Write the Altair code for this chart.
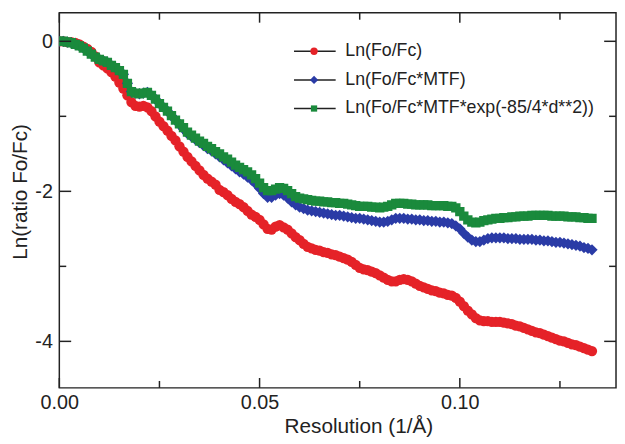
import altair as alt
import pandas as pd

# ---- data ----
step = 0.001
red = [0.00, 0.00, -0.01, -0.01, -0.02, -0.04, -0.07, -0.10, -0.14, -0.20,
       -0.28, -0.32, -0.36, -0.41, -0.47, -0.55, -0.63, -0.72, -0.81, -0.86,
       -0.87, -0.86, -0.88, -0.93, -1.00, -1.07, -1.13, -1.19, -1.26, -1.32,
       -1.40, -1.47, -1.54, -1.60, -1.66, -1.72, -1.78, -1.83, -1.87, -1.91,
       -1.98, -2.01, -2.05, -2.10, -2.14, -2.17, -2.21, -2.26, -2.31, -2.34,
       -2.38, -2.44, -2.50, -2.51, -2.47, -2.45, -2.48, -2.51, -2.56, -2.61,
       -2.65, -2.70, -2.74, -2.76, -2.78, -2.79, -2.81, -2.82, -2.84, -2.85,
       -2.87, -2.89, -2.91, -2.94, -2.98, -3.02, -3.04, -3.05, -3.07, -3.09,
       -3.12, -3.15, -3.18, -3.20, -3.20, -3.18, -3.17, -3.18, -3.20, -3.23,
       -3.26, -3.28, -3.30, -3.32, -3.33, -3.35, -3.36, -3.38, -3.39, -3.42,
       -3.47, -3.53, -3.59, -3.64, -3.69, -3.72, -3.73, -3.73, -3.74, -3.74,
       -3.74, -3.75, -3.76, -3.77, -3.79, -3.80, -3.82, -3.84, -3.86, -3.88,
       -3.89, -3.91, -3.93, -3.95, -3.97, -3.99, -4.00, -4.02, -4.04, -4.05,
       -4.07, -4.09, -4.11, -4.13]
blue = [0.00, 0.00, -0.01, -0.02, -0.04, -0.06, -0.09, -0.13, -0.17, -0.21,
        -0.24, -0.26, -0.28, -0.32, -0.35, -0.39, -0.44, -0.56, -0.67, -0.69,
        -0.70, -0.69, -0.68, -0.72, -0.77, -0.83, -0.88, -0.93, -0.99, -1.05,
        -1.11, -1.17, -1.23, -1.27, -1.31, -1.35, -1.39, -1.43, -1.46, -1.50,
        -1.54, -1.58, -1.62, -1.66, -1.70, -1.74, -1.77, -1.81, -1.85, -1.90,
        -1.96, -2.03, -2.08, -2.08, -2.05, -2.03, -2.05, -2.09, -2.14, -2.18,
        -2.21, -2.23, -2.25, -2.26, -2.27, -2.28, -2.29, -2.30, -2.31, -2.32,
        -2.32, -2.33, -2.34, -2.35, -2.36, -2.36, -2.37, -2.38, -2.39, -2.40,
        -2.41, -2.41, -2.40, -2.38, -2.36, -2.36, -2.36, -2.37, -2.37, -2.38,
        -2.38, -2.39, -2.39, -2.40, -2.40, -2.41, -2.41, -2.42, -2.43, -2.46,
        -2.50, -2.56, -2.61, -2.65, -2.67, -2.67, -2.65, -2.63, -2.62, -2.62,
        -2.62, -2.62, -2.63, -2.63, -2.63, -2.64, -2.64, -2.64, -2.64, -2.65,
        -2.65, -2.66, -2.66, -2.67, -2.68, -2.68, -2.69, -2.70, -2.71, -2.72,
        -2.73, -2.75, -2.76, -2.78]
green = [0.00, 0.00, -0.01, -0.02, -0.04, -0.06, -0.09, -0.13, -0.17, -0.21,
         -0.24, -0.26, -0.28, -0.32, -0.35, -0.39, -0.44, -0.56, -0.67, -0.69,
         -0.70, -0.69, -0.68, -0.72, -0.77, -0.83, -0.88, -0.93, -0.99, -1.05,
         -1.10, -1.15, -1.21, -1.25, -1.29, -1.33, -1.36, -1.40, -1.43, -1.47,
         -1.50, -1.54, -1.57, -1.61, -1.65, -1.68, -1.71, -1.74, -1.78, -1.83,
         -1.89, -1.95, -1.99, -1.99, -1.97, -1.95, -1.96, -1.99, -2.03, -2.07,
         -2.09, -2.10, -2.11, -2.12, -2.13, -2.13, -2.14, -2.14, -2.15, -2.15,
         -2.16, -2.16, -2.17, -2.18, -2.19, -2.20, -2.20, -2.20, -2.21, -2.21,
         -2.22, -2.21, -2.20, -2.18, -2.16, -2.16, -2.16, -2.17, -2.17, -2.18,
         -2.18, -2.18, -2.18, -2.19, -2.19, -2.19, -2.19, -2.20, -2.20, -2.22,
         -2.27, -2.33, -2.38, -2.41, -2.42, -2.41, -2.39, -2.38, -2.37, -2.36,
         -2.36, -2.35, -2.35, -2.34, -2.34, -2.33, -2.33, -2.33, -2.32, -2.32,
         -2.32, -2.32, -2.32, -2.33, -2.33, -2.33, -2.33, -2.34, -2.34, -2.34,
         -2.35, -2.35, -2.36, -2.36]

series_names = ["Ln(Fo/Fc)", "Ln(Fo/Fc*MTF)", "Ln(Fo/Fc*MTF*exp(-85/4*d**2))"]
series_colors = ["#E52228", "#2A3BA6", "#1A8A3C"]
series_shapes = ["circle", "diamond", "square"]

x_labels = [0.00, 0.05, 0.10]
x_minor = [0.025, 0.075, 0.125]
y_labels = [0, -2, -4]
y_minor = [-1, -3]

# ---- layout / style ----
W, H = 564, 380
X_DOM = [0, 0.139]
Y_DOM = [-4.62, 0.38]
FONT = "Liberation Sans"
INK = "#222222"
marker_sizes = [110, 130, 90]
legend_marker_sizes = [55, 70, 40]
legend_rows_y = [-0.133, -0.515, -0.896]
legend_line_x = [0.0586, 0.0690]
legend_marker_x = 0.0636
legend_text_x = 0.0714

xs = alt.Scale(domain=X_DOM, nice=False, zero=False)
ys = alt.Scale(domain=Y_DOM, nice=False, zero=False)

xaxis = alt.Axis(values=x_labels, format=".2f", ticks=False, tickSize=0, grid=False,
                 domain=False, labelFont=FONT, labelFontSize=20, labelColor=INK,
                 labelPadding=5, labelFlush=False, title="Resolution (1/Å)", titleFont=FONT,
                 titleFontSize=21, titleFontWeight="normal", titleColor=INK,
                 titleX=303, titleY=39, titleBaseline="middle")
yaxis = alt.Axis(values=y_labels, labelExpr="toString(datum.value)", ticks=False,
                 tickSize=0, grid=False, domain=False, labelFont=FONT, labelFontSize=20,
                 labelColor=INK, labelPadding=7, labelFlush=False,
                 title="Ln(ratio Fo/Fc)", titleFont=FONT,
                 titleFontSize=21, titleFontWeight="normal", titleColor=INK,
                 titleX=-39, titleY=181, titleAngle=-90, titleAlign="center",
                 titleBaseline="middle")


def X(field):
    return alt.X(field, scale=xs, axis=xaxis)


def Y(field):
    return alt.Y(field, scale=ys, axis=yaxis)


layers = []
for i, vals in enumerate([red, blue, green]):
    df = pd.DataFrame({"x": [round(k * step, 4) for k in range(len(vals))], "y": vals})
    layers.append(
        alt.Chart(df).mark_point(filled=True, shape=series_shapes[i], size=marker_sizes[i],
                                 color=series_colors[i], opacity=1, clip=True)
        .encode(x=X("x:Q"), y=Y("y:Q"))
    )


# inward ticks on all four sides
def yticks(vals, length):
    d = pd.DataFrame({"v": vals})
    left = alt.Chart(d).mark_rule(color=INK, strokeWidth=1.5).encode(
        y=Y("v:Q"), x=alt.value(0), x2=alt.value(length))
    right = alt.Chart(d).mark_rule(color=INK, strokeWidth=1.5).encode(
        y=Y("v:Q"), x=alt.value(W), x2=alt.value(W - length))
    return [left, right]


def xticks(vals, length):
    d = pd.DataFrame({"v": vals})
    bottom = alt.Chart(d).mark_rule(color=INK, strokeWidth=1.5).encode(
        x=X("v:Q"), y=alt.value(H), y2=alt.value(H - length))
    top = alt.Chart(d).mark_rule(color=INK, strokeWidth=1.5).encode(
        x=X("v:Q"), y=alt.value(0), y2=alt.value(length))
    return [bottom, top]


tick_layers = yticks(y_labels, 12) + yticks(y_minor, 7) + xticks(x_labels, 10) + xticks(x_minor, 7)

# legend drawn in data space
leg = pd.DataFrame({"name": series_names, "ly": legend_rows_y,
                    "x1": [legend_line_x[0]] * 3, "x2": [legend_line_x[1]] * 3,
                    "mx": [legend_marker_x] * 3, "tx": [legend_text_x] * 3})
leg_lines = alt.Chart(leg).mark_rule(color=INK, strokeWidth=1.5).encode(
    x=X("x1:Q"), x2="x2:Q", y=Y("ly:Q"))
leg_marks = []
for i, name in enumerate(series_names):
    leg_marks.append(
        alt.Chart(leg[leg["name"] == name]).mark_point(
            filled=True, shape=series_shapes[i], size=legend_marker_sizes[i],
            color=series_colors[i], opacity=1)
        .encode(x=X("mx:Q"), y=Y("ly:Q"))
    )
leg_text = alt.Chart(leg).mark_text(align="left", baseline="middle", font=FONT,
                                    fontSize=18, color=INK).encode(
    x=X("tx:Q"), y=Y("ly:Q"), text="name:N")

chart = alt.layer(*layers, *tick_layers, leg_lines, *leg_marks, leg_text).properties(
    width=W, height=H, autosize="none",
    padding={"left": 52, "top": 2, "right": 1, "bottom": 54},
).configure(background="white", view=alt.ViewConfig(stroke=INK, strokeWidth=1.5))

chart.save("out.html", embed_options={"renderer": "svg", "actions": False})
